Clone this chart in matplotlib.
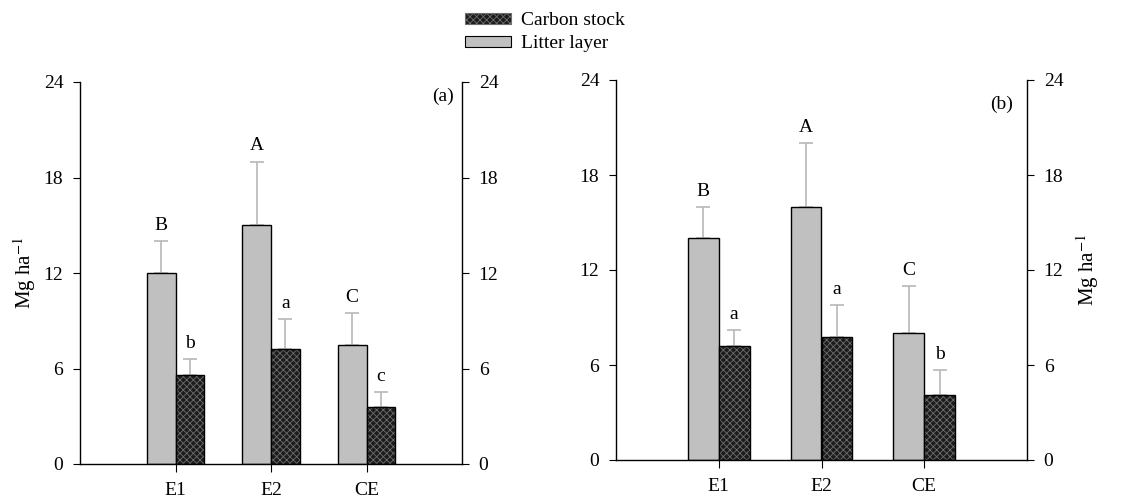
import matplotlib.pyplot as plt
from matplotlib.patches import Patch
import numpy as np

plt.rcParams['font.family'] = ['Liberation Serif', 'DejaVu Serif']
plt.rcParams['mathtext.fontset'] = 'stix'
plt.rcParams['font.size'] = 14
plt.rcParams['hatch.linewidth'] = 0.6

sites = ['E1', 'E2', 'CE']

# panel (a)
litter_a = [12.0, 15.0, 7.5]
litter_a_err = [2.0, 4.0, 2.0]
carbon_a = [5.6, 7.2, 3.6]
carbon_a_err = [1.0, 1.9, 0.9]
litter_a_lbl = ['B', 'A', 'C']
carbon_a_lbl = ['b', 'a', 'c']

# panel (b)
litter_b = [14.0, 16.0, 8.0]
litter_b_err = [2.0, 4.0, 3.0]
carbon_b = [7.2, 7.8, 4.1]
carbon_b_err = [1.0, 2.0, 1.6]
litter_b_lbl = ['B', 'A', 'C']
carbon_b_lbl = ['a', 'a', 'b']

yticks = [0, 6, 12, 18, 24]

fig = plt.figure(figsize=(11.28, 5.01), dpi=100)
ax1 = fig.add_axes([80 / 1128, 1 - 464 / 501, 382 / 1128, 382 / 501])
ax2 = fig.add_axes([616 / 1128, 1 - 460 / 501, 411 / 1128, 380 / 501])

w = 0.3
ecol = '#b8b8b8'
dark = '#1c1c1c'
dots = '#6e6e6e'


def draw_panel(ax, litter, litter_err, carbon, carbon_err, l_lbl, c_lbl, tag, tag_xy):
    x = np.arange(1, len(sites) + 1)
    ax.bar(x - w / 2, litter, w, color='#c0c0c0', edgecolor='black', linewidth=1.0,
           zorder=2)
    # hatched fill first, outline drawn over it
    ax.bar(x + w / 2, carbon, w, color=dark, edgecolor=dots, hatch='xxxxx',
           linewidth=0, zorder=2)
    ax.bar(x + w / 2, carbon, w, fill=False, edgecolor='black', linewidth=1.0, zorder=3)
    ax.errorbar(x - w / 2, litter, yerr=[np.zeros(3), litter_err], fmt='none',
                ecolor=ecol, elinewidth=1.2, capsize=5, capthick=1.2, zorder=1)
    ax.errorbar(x + w / 2, carbon, yerr=[np.zeros(3), carbon_err], fmt='none',
                ecolor=ecol, elinewidth=1.2, capsize=5, capthick=1.2, zorder=1)
    for i in range(len(sites)):
        ax.text(x[i] - w / 2, litter[i] + litter_err[i] + 0.45, l_lbl[i],
                ha='center', va='bottom')
        ax.text(x[i] + w / 2, carbon[i] + carbon_err[i] + 0.45, c_lbl[i],
                ha='center', va='bottom')
    ax.set_xlim(0, 4)
    ax.set_ylim(0, 24)
    ax.set_yticks(yticks)
    ax.set_xticks(x)
    ax.set_xticklabels(sites)
    ax.spines['top'].set_visible(False)
    for s in ['left', 'right', 'bottom']:
        ax.spines[s].set_linewidth(1.0)
    ax.tick_params(axis='y', right=True, labelright=True, direction='out', length=5,
                   pad=7, labelsize=14)
    ax.tick_params(axis='x', direction='out', length=6, pad=7, labelsize=14)
    ax.text(tag_xy[0], tag_xy[1], tag, transform=ax.transAxes, ha='right', va='top')


draw_panel(ax1, litter_a, litter_a_err, carbon_a, carbon_a_err,
           litter_a_lbl, carbon_a_lbl, '(a)', (0.978, 0.985))
draw_panel(ax2, litter_b, litter_b_err, carbon_b, carbon_b_err,
           litter_b_lbl, carbon_b_lbl, '(b)', (0.966, 0.96))

ax1.set_ylabel('Mg ha$^{-1}$', fontsize=15, labelpad=4)
ax2.yaxis.set_label_position('right')
ax2.set_ylabel('Mg ha$^{-1}$', fontsize=15, labelpad=8)

handles = [
    Patch(facecolor=dark, edgecolor=dots, hatch='xxxxx', linewidth=0.8,
          label='Carbon stock'),
    Patch(facecolor='#c0c0c0', edgecolor='black', linewidth=0.8, label='Litter layer'),
]
fig.legend(handles=handles, loc='upper left', bbox_to_anchor=(447 / 1128, 1.01),
           frameon=False, handlelength=2.4, handleheight=0.45, handletextpad=0.5,
           labelspacing=0.3, fontsize=14)

fig.savefig('out.png', dpi=100)
